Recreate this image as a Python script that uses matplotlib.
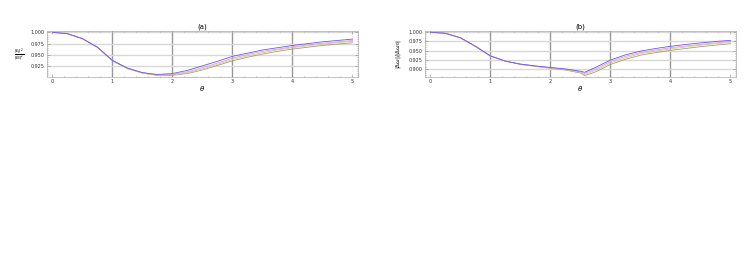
import numpy as np
import matplotlib
matplotlib.use("Agg")
import matplotlib.pyplot as plt
from matplotlib.ticker import MultipleLocator

# sample positions (theta)
xa = [0, 0.25, 0.5, 0.75, 1, 1.25, 1.5, 1.75, 2, 2.25, 2.5, 2.75, 3,
      3.25, 3.5, 3.75, 4, 4.25, 4.5, 4.75, 5]
xb = [0, 0.25, 0.5, 0.75, 1, 1.25, 1.5, 1.75, 2, 2.25, 2.5, 2.57, 2.75, 3,
      3.25, 3.5, 3.75, 4, 4.25, 4.5, 4.75, 5]

# panel (a)
a1 = [1.000, 0.997, 0.986, 0.967, 0.938, 0.921, 0.911, 0.907, 0.909, 0.916, 0.926,
      0.936, 0.947, 0.954, 0.961, 0.966, 0.971, 0.975, 0.979, 0.982, 0.985]
a2 = [1.000, 0.997, 0.986, 0.967, 0.938, 0.921, 0.911, 0.906, 0.907, 0.913, 0.922,
      0.932, 0.943, 0.951, 0.958, 0.963, 0.968, 0.972, 0.976, 0.979, 0.982]
a3 = [1.000, 0.997, 0.986, 0.967, 0.938, 0.920, 0.910, 0.905, 0.906, 0.911, 0.919,
      0.929, 0.940, 0.948, 0.955, 0.961, 0.966, 0.970, 0.974, 0.977, 0.980]
a4 = [1.000, 0.997, 0.986, 0.967, 0.937, 0.920, 0.910, 0.905, 0.905, 0.909, 0.917,
      0.927, 0.937, 0.945, 0.952, 0.958, 0.963, 0.967, 0.971, 0.974, 0.977]

# panel (b)
b1 = [1.000, 0.997, 0.985, 0.962, 0.936, 0.922, 0.914, 0.909, 0.905, 0.901, 0.895,
      0.892, 0.905, 0.925, 0.939, 0.949, 0.956, 0.962, 0.967, 0.971, 0.975, 0.978]
b2 = [1.000, 0.997, 0.985, 0.962, 0.936, 0.922, 0.914, 0.909, 0.904, 0.900, 0.893,
      0.889, 0.901, 0.921, 0.935, 0.945, 0.952, 0.958, 0.963, 0.967, 0.971, 0.975]
b3 = [1.000, 0.997, 0.985, 0.962, 0.936, 0.922, 0.914, 0.908, 0.904, 0.899, 0.892,
      0.886, 0.897, 0.917, 0.931, 0.942, 0.949, 0.955, 0.960, 0.965, 0.969, 0.972]
b4 = [1.000, 0.997, 0.985, 0.962, 0.936, 0.922, 0.913, 0.908, 0.903, 0.898, 0.890,
      0.883, 0.893, 0.913, 0.927, 0.938, 0.945, 0.951, 0.956, 0.961, 0.965, 0.969]

colors = ['#9aa088', '#d4d470', '#e89ad8', '#6a5ae8']
xticks = [0, 1, 2, 3, 4, 5]
yticks_a = [0.925, 0.950, 0.975, 1.000]
yticks_b = [0.900, 0.925, 0.950, 0.975, 1.000]

fig = plt.figure(figsize=(7.56, 2.56), dpi=100)
ax1 = fig.add_axes([0.0618, 0.698, 0.412, 0.182])
ax2 = fig.add_axes([0.5618, 0.698, 0.412, 0.182])


def style(ax, yticks, ylim, title):
    ax.set_xlim(-0.095, 5.095)
    ax.set_ylim(*ylim)
    ax.set_xticks(xticks)
    ax.set_yticks(yticks)
    ax.xaxis.set_minor_locator(MultipleLocator(0.2))
    ax.yaxis.set_minor_locator(MultipleLocator(0.005))
    ax.tick_params(which='both', direction='in', top=True, right=True,
                   labelsize=3.5, colors='#888888', labelcolor='#333333',
                   width=0.4, pad=1.5)
    ax.tick_params(which='major', length=2)
    ax.tick_params(which='minor', length=1)
    for x in xticks[1:-1]:
        ax.axvline(x, color='#999999', lw=1.0, zorder=0)
    for y in yticks:
        ax.axhline(y, color='#d8d8d8', lw=1.0, zorder=0)
    for s in ax.spines.values():
        s.set_color('#aaaaaa')
        s.set_linewidth(0.5)
    ax.set_title(title, fontsize=5, pad=1.5)
    ax.set_xlabel(r'$\theta$', fontsize=5, labelpad=0)


style(ax1, yticks_a, (0.9007, 1.0035), '(a)')
for ys, c in zip([a4, a3, a2, a1], colors):
    ax1.plot(xa, ys, color=c, lw=0.6)
ax1.set_yticklabels(['%.3f' % v for v in yticks_a])
ax1.set_ylabel(r'$\frac{|E_t|^2}{|E_0|^2}$', fontsize=4, rotation=0, labelpad=8, va='center')

style(ax2, yticks_b, (0.8784, 1.004), '(b)')
for ys, c in zip([b4, b3, b2, b1], colors):
    ax2.plot(xb, ys, color=c, lw=0.6)
ax2.set_yticklabels(['%.3f' % v for v in yticks_b])
ax2.set_ylabel(r'$|\Delta\omega|/|\Delta\omega_0|$', fontsize=4, labelpad=4)

fig.savefig('out.png', dpi=100)
